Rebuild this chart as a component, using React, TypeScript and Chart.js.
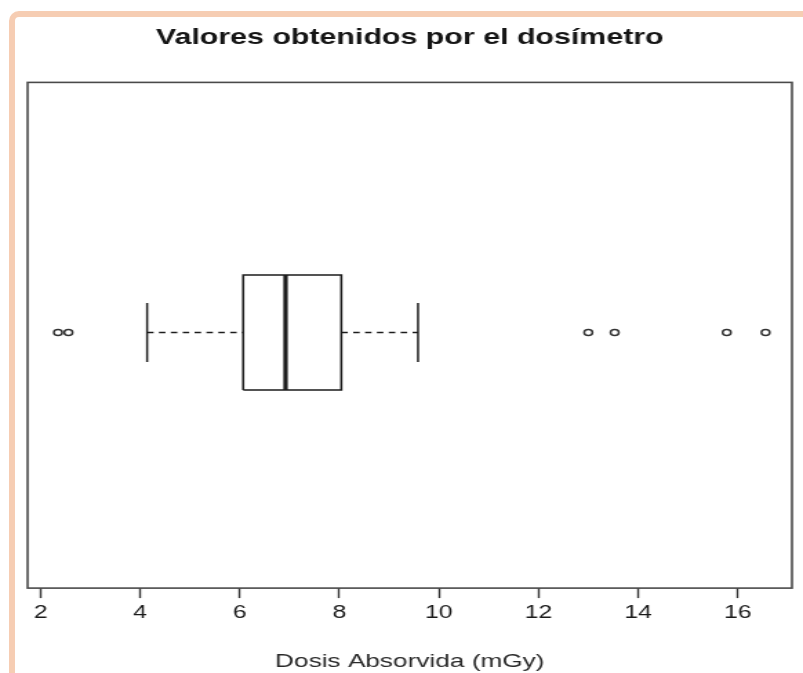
import React, { useEffect, useRef } from "react";
import { Chart, registerables } from "chart.js";

Chart.register(...registerables);

// ---- data ----
const chartTitle = "Valores obtenidos por el dosímetro";
const axisTitle = "Dosis Absorvida (mGy)";
const tickValues = [2, 4, 6, 8, 10, 12, 14, 16];
const quartiles = [6.07, 6.92, 8.04]; // Q1, median, Q3
const whiskerEnds = [4.14, 9.58]; // lower, upper whisker
const outliers = [2.35, 2.56, 13.0, 13.53, 15.78, 16.56];
const axisRange = [1.74, 17.09];

// ---- styling constants ----
const CANVAS_W = 582;
const CANVAS_H = 673;
const STRETCH = 803 / CANVAS_W;
const BOX_HALF = 0.23;
const CAP_HALF = 0.118;
const Y_RANGE = [-1.022, 1];
const INK = "#1c1c1c";
const FONT = "'Liberation Sans', Arial, Helvetica, sans-serif";

const frameBox = {
  id: "frameBox",
  beforeDatasetsDraw(chart: any) {
    const { ctx, chartArea } = chart;
    ctx.save();
    ctx.strokeStyle = "#4a4a4a";
    ctx.lineWidth = 1.6;
    ctx.strokeRect(chartArea.left, chartArea.top, chartArea.right - chartArea.left, chartArea.bottom - chartArea.top);
    ctx.restore();
  },
};

export default function App() {
  const ref = useRef<HTMLCanvasElement | null>(null);

  useEffect(() => {
    if (!ref.current) return;
    const [q1, med, q3] = quartiles;
    const [lo, hi] = whiskerEnds;
    const lineDs = (data: any[], width: number, dash: number[] = []) => ({
      type: "line" as const,
      data,
      borderColor: INK,
      borderWidth: width,
      borderDash: dash,
      pointRadius: 0,
      showLine: true,
      fill: false,
      tension: 0,
    });
    const chart = new Chart(ref.current, {
      type: "scatter",
      data: {
        datasets: [
          lineDs([{ x: lo, y: 0 }, { x: q1, y: 0 }], 1.6, [4.7, 3.9]),
          lineDs([{ x: q3, y: 0 }, { x: hi, y: 0 }], 1.6, [4.7, 3.9]),
          lineDs([{ x: lo, y: -CAP_HALF }, { x: lo, y: CAP_HALF }], 1.5),
          lineDs([{ x: hi, y: -CAP_HALF }, { x: hi, y: CAP_HALF }], 1.5),
          lineDs(
            [
              { x: q1, y: -BOX_HALF },
              { x: q3, y: -BOX_HALF },
              { x: q3, y: BOX_HALF },
              { x: q1, y: BOX_HALF },
              { x: q1, y: -BOX_HALF },
            ],
            1.6
          ),
          lineDs([{ x: med, y: -BOX_HALF }, { x: med, y: BOX_HALF }], 3.2),
          {
            type: "scatter" as const,
            data: outliers.map((v) => ({ x: v, y: 0 })),
            pointStyle: "circle",
            pointRadius: 3,
            pointBorderWidth: 1.5,
            pointBorderColor: "#333",
            pointBackgroundColor: "rgba(255,255,255,0)",
            showLine: false,
          } as any,
        ],
      },
      options: {
        animation: false,
        responsive: false,
        layout: { padding: { left: 20, right: 8, top: 0, bottom: 0 } },
        plugins: {
          legend: { display: false },
          tooltip: { enabled: false },
          title: {
            display: true,
            text: chartTitle,
            color: "#151515",
            font: { family: FONT, size: 22, weight: "bold" },
            padding: { top: 25, bottom: 31 },
          },
        },
        scales: {
          x: {
            type: "linear",
            min: axisRange[0],
            max: axisRange[1],
            afterBuildTicks: (axis: any) => {
              axis.ticks = tickValues.map((v) => ({ value: v }));
            },
            border: { display: false },
            grid: {
              display: true,
              drawOnChartArea: false,
              drawTicks: true,
              tickLength: 10,
              tickColor: "#333",
              tickWidth: 1.4,
            },
            ticks: {
              padding: 4.5,
              color: "#1a1a1a",
              font: { family: FONT, size: 18 },
              maxRotation: 0,
              autoSkip: false,
              callback: (v: any) => String(v),
            },
            title: {
              display: true,
              text: axisTitle,
              color: "#2a2a2a",
              font: { family: FONT, size: 19 },
              padding: { top: 21.5, bottom: 0 },
            },
          },
          y: {
            type: "linear",
            display: false,
            min: Y_RANGE[0],
            max: Y_RANGE[1],
          },
        },
      },
      plugins: [frameBox],
    });
    return () => chart.destroy();
  }, []);

  return (
    <div
      style={{
        position: "fixed",
        left: 0,
        top: 0,
        width: 803,
        height: 673,
        overflow: "hidden",
        background: "#fff",
      }}
    >
      <div
        style={{
          position: "absolute",
          left: 9,
          top: 11,
          width: 900,
          height: 800,
          border: "6px solid #f6cdb3",
          borderRadius: 10,
          boxSizing: "border-box",
        }}
      />
      <div
        style={{
          position: "absolute",
          left: 0,
          top: 0,
          width: CANVAS_W,
          height: CANVAS_H,
          transform: `scaleX(${STRETCH})`,
          transformOrigin: "0 0",
        }}
      >
        <canvas ref={ref} width={CANVAS_W} height={CANVAS_H} style={{ display: "block" }} />
      </div>
    </div>
  );
}
